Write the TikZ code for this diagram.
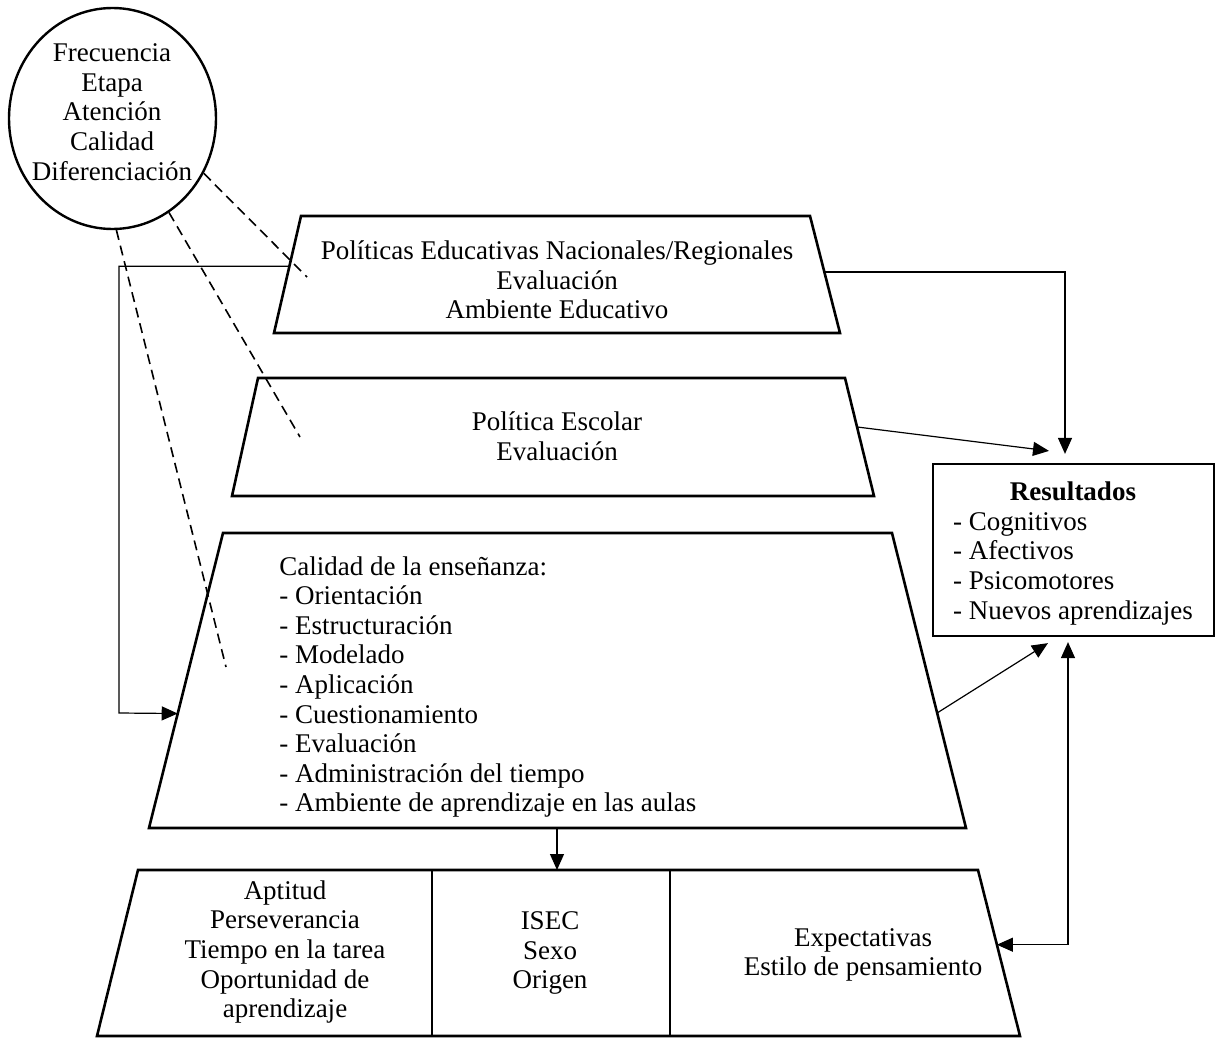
\documentclass[tikz,border=0pt]{standalone}
\usepackage{fontspec}
\setmainfont{Liberation Serif}
\usetikzlibrary{arrows.meta,calc,shapes.geometric}

\begin{document}
\begin{tikzpicture}[x=0.5pt,y=-0.5pt,
  box/.style={line width=1.3pt, line join=miter},
  link/.style={line width=0.6pt},
  arr/.style={link,-{Triangle[length=8pt,width=7pt]}},
  biarr/.style={link,{Triangle[length=8pt,width=7pt]}-{Triangle[length=8pt,width=7pt]}},
  hint/.style={line width=0.8pt, dash pattern=on 5pt off 3pt},
  txt/.style={align=center, font=\fontsize{13.5}{14.8}\selectfont, inner sep=0pt},
]
\useasboundingbox (0,0) rectangle (1216,1039);

% factors circle
\node[draw, ellipse, line width=1.2pt, inner sep=0pt,
      minimum width=103.5pt, minimum height=110.5pt] (circ) at (112.5,118.5) {};
\node[txt] (circtxt) at (112,112) {Frecuencia\\Etapa\\Atención\\Calidad\\Diferenciación};

% level 1: national / regional
\coordinate (t1tl) at (301,216);  \coordinate (t1tr) at (810,216);
\coordinate (t1br) at (840,333);  \coordinate (t1bl) at (274,333);
\draw[box] (t1tl) -- (t1tr) -- (t1br) -- (t1bl) -- cycle;
\node[txt] (t1txt) at (557,280) {Políticas Educativas Nacionales/Regionales\\Evaluación\\Ambiente Educativo};

% level 2: school
\coordinate (t2tl) at (258,378);  \coordinate (t2tr) at (845,378);
\coordinate (t2br) at (874,496);  \coordinate (t2bl) at (232,496);
\draw[box] (t2tl) -- (t2tr) -- (t2br) -- (t2bl) -- cycle;
\node[txt] (t2txt) at (557,436) {Política Escolar\\Evaluación};

% level 3: classroom
\coordinate (t3tl) at (223,533);  \coordinate (t3tr) at (892,533);
\coordinate (t3br) at (966,828);  \coordinate (t3bl) at (149,828);
\draw[box] (t3tl) -- (t3tr) -- (t3br) -- (t3bl) -- cycle;
\node[txt, align=left, anchor=north west] (t3txt) at (279,556)
  {Calidad de la enseñanza:\\- Orientación\\- Estructuración\\- Modelado\\- Aplicación\\- Cuestionamiento\\- Evaluación\\- Administración del tiempo\\- Ambiente de aprendizaje en las aulas};

% level 4: student
\coordinate (t4tl) at (138,870);  \coordinate (t4tr) at (978,870);
\coordinate (t4br) at (1020,1036); \coordinate (t4bl) at (97,1036);
\draw[box] (t4tl) -- (t4tr) -- (t4br) -- (t4bl) -- cycle;
\coordinate (d1t) at (432,870); \coordinate (d1b) at (432,1036);
\coordinate (d2t) at (670,870); \coordinate (d2b) at (670,1036);
\draw[link] (d1t) -- (d1b);
\draw[link] (d2t) -- (d2b);
\node[txt] (s1) at (285,952) {Aptitud\\Perseverancia\\Tiempo en la tarea\\Oportunidad de\\aprendizaje};
\node[txt] (s2) at (550,953) {ISEC\\Sexo\\Origen};
\node[txt] (s3) at (863,955) {Expectativas\\Estilo de pensamiento};

% outcomes
\node[draw, line width=1.1pt, minimum width=140.5pt, minimum height=86pt, inner sep=0pt] (res) at (1073.5,550) {};
\node[txt] (restxt) at (1073,554) {\renewcommand\arraystretch{1}%
  \begin{tabular}{@{}l@{}}\multicolumn{1}{@{}c@{}}{\textbf{Resultados}}\\- Cognitivos\\- Afectivos\\- Psicomotores\\- Nuevos aprendizajes\end{tabular}};

% attachment points on the level outlines
\coordinate (t1r) at ($(t1tr)!0.479!(t1br)$);
\coordinate (t1l) at ($(t1tl)!0.43!(t1bl)$);
\coordinate (t2r) at ($(t2tr)!0.415!(t2br)$);
\coordinate (t3r) at ($(t3tr)!0.61!(t3br)$);
\coordinate (t3l) at ($(t3tl)!0.612!(t3bl)$);
\coordinate (t4r) at ($(t4tr)!0.45!(t4br)$);
\coordinate (t3b) at (557,828);
\coordinate (t4t) at (557,870);
\coordinate (bendL) at (119,713);

% connectors
\draw[arr] (t1r) -| ([xshift=-4.25pt,yshift=4.5pt]res.north);
\draw[arr] (t2r) -- ([xshift=-12.25pt,yshift=6pt]res.north);
\draw[arr] (t3r) -- ([xshift=-12.75pt,yshift=-3pt]res.south);
\draw[biarr] ([xshift=-2.75pt,yshift=-2.5pt]res.south) |- (t4r);
\draw[arr] (t1l) -| (bendL) -- (t3l);
\draw[arr] (t3b) -- (t4t);

% dashed links from the circle
\coordinate (h1) at (307,277);
\coordinate (h2) at (300,437);
\coordinate (h3) at (226,667);
\draw[hint] (circ.-31) -- (h1);
\draw[hint] (circ.-59) -- (h2);
\draw[hint] (circ.-88) -- (h3);
\end{tikzpicture}
\end{document}
